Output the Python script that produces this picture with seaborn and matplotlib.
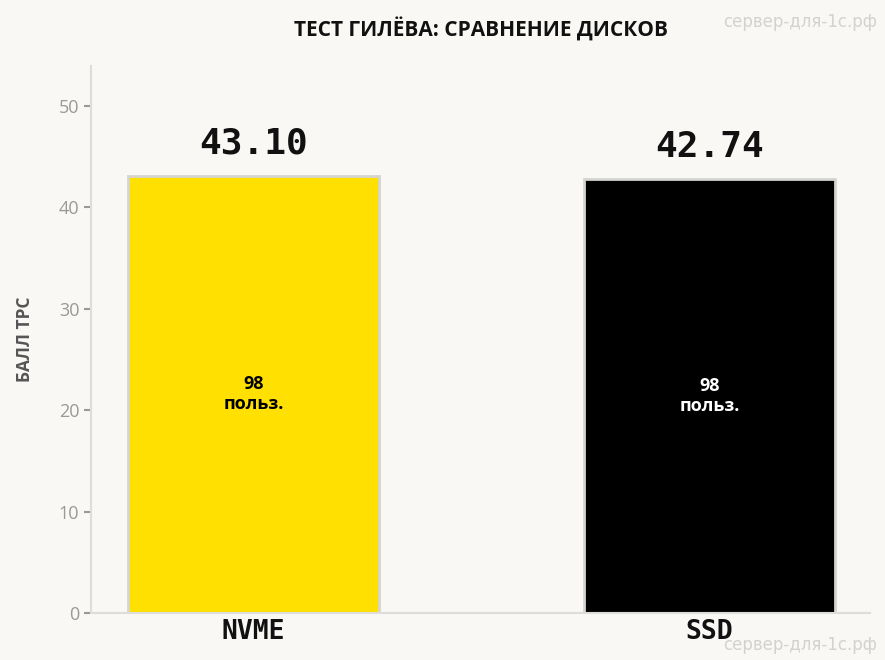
import pandas as pd
import matplotlib.pyplot as plt
import seaborn as sns

# data
disks = ["NVME", "SSD"]
scores = [43.10, 42.74]
users = [98, 98]
bar_colors = ["#FFE000", "#000000"]
inner_text_colors = ["#000000", "#FFFFFF"]

bg = "#F9F8F5"
sns.set_theme(style="white")
plt.rcParams['font.family'] = ['Open Sans', 'DejaVu Sans']

df = pd.DataFrame({"disk": disks, "score": scores})

fig = plt.figure(figsize=(8.85, 6.6), dpi=100, facecolor=bg)
ax = fig.add_axes([0.103, 0.071, 0.880, 0.829])
ax.set_facecolor(bg)

sns.barplot(data=df, x="disk", y="score", hue="disk", palette=bar_colors,
            saturation=1, width=0.55, edgecolor="#D4D4D0", linewidth=2,
            legend=False, ax=ax)

ax.set_xlim(-0.356, 1.352)
ax.set_ylim(0, 53.9)
yticks = [0, 10, 20, 30, 40, 50]
ax.set_yticks(yticks)
ax.set_yticklabels([str(t) for t in yticks], family="Open Sans")

# value labels above bars and user counts inside
for i, (s, u) in enumerate(zip(scores, users)):
    ax.text(i, s + 1.5, f"{s:.2f}", ha="center", va="bottom",
            fontsize=26, fontweight="bold", family="DejaVu Sans Mono", color="#111111")
    ax.text(i, s / 2, f"{u}\nпольз.", ha="center", va="center",
            fontsize=13, fontweight="bold", color=inner_text_colors[i], linespacing=1.15)

for sp in ["top", "right"]:
    ax.spines[sp].set_visible(False)
for sp in ["left", "bottom"]:
    ax.spines[sp].set_color("#DDDDDA")
    ax.spines[sp].set_linewidth(1.5)

ax.tick_params(axis="y", colors="#999999", labelsize=13, length=5, width=1.5, left=True)
ax.tick_params(axis="x", length=0, pad=4)
ax.set_xticks(range(len(disks)))
ax.set_xticklabels(disks, family="DejaVu Sans Mono", fontweight="bold",
                   fontsize=19, color="#111111")

ax.set_xlabel("")
ax.set_ylabel("БАЛЛ TPC", fontsize=12.5, fontweight="bold", color="#555555", labelpad=18)
ax.set_title("ТЕСТ ГИЛЁВА: СРАВНЕНИЕ ДИСКОВ", fontsize=15, fontweight="bold",
             color="#111111", pad=21)

fig.text(0.991, 0.967, "сервер-для-1с.рф", ha="right", va="center",
         fontsize=12, family="DejaVu Sans", color="#D2D2D0")
fig.text(0.991, 0.022, "сервер-для-1с.рф", ha="right", va="center",
         fontsize=12, family="DejaVu Sans", color="#D2D2D0")

plt.savefig("out.png", dpi=100, facecolor=bg)
